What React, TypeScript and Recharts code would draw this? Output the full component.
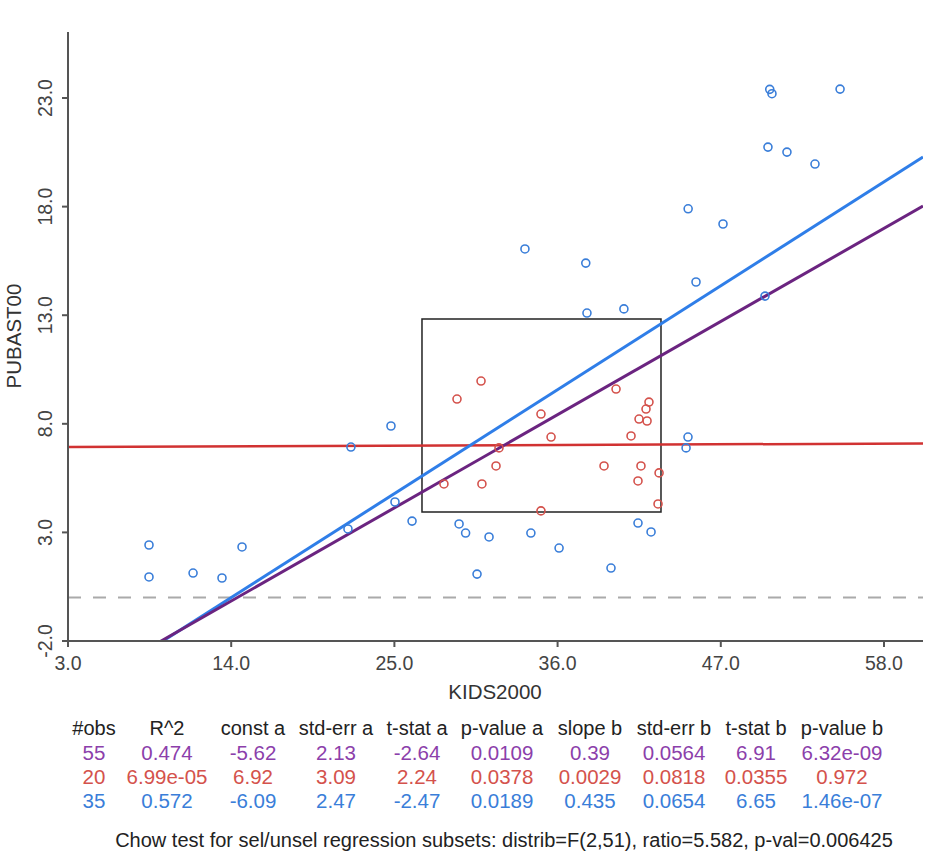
import React from "react";
import { ScatterChart, Scatter, XAxis, YAxis, ReferenceLine, ReferenceArea } from "recharts";

// unselected observations (blue)
const unselX = [8.46, 8.46, 11.43, 13.38, 14.73, 22.07, 24.77, 25.04, 21.87, 26.19, 29.36, 29.8, 31.38, 30.57, 34.2, 36.1, 33.8, 37.9, 37.98, 40.47, 41.42, 42.3, 39.6, 44.79, 44.66, 44.8, 47.15, 45.33, 49.98, 50.3, 50.45, 50.18, 51.46, 53.35, 55.04];
const unselY = [2.42, 0.95, 1.13, 0.9, 2.33, 6.93, 7.9, 4.4, 3.16, 3.52, 3.39, 2.97, 2.79, 1.08, 2.97, 2.28, 16.05, 15.4, 13.1, 13.29, 3.43, 3.02, 1.36, 7.39, 6.89, 17.9, 17.2, 14.53, 13.88, 23.4, 23.2, 20.74, 20.51, 19.96, 23.41];

// selected observations (red, inside the box)
const selX = [30.84, 29.22, 39.94, 42.16, 41.96, 41.49, 42.03, 34.88, 35.56, 40.95, 32.05, 31.85, 39.13, 41.62, 42.84, 41.42, 28.34, 30.9, 34.88, 42.77];
const selY = [9.97, 9.14, 9.6, 9.0, 8.68, 8.22, 8.13, 8.45, 7.39, 7.44, 6.89, 6.06, 6.06, 6.06, 5.74, 5.37, 5.23, 5.23, 3.99, 4.31];

// selection box (data units)
const boxX = [26.86, 42.97];
const boxY = [3.94, 12.83];

const xTicks = [3, 14, 25, 36, 47, 58];
const yTicks = [-2, 3, 8, 13, 18, 23];
const xDomain = [3, 60.63];
const yDomain = [-2, 26.04];

// regression summary: all / selected / unselected
const headers = ["#obs", "R^2", "const a", "std-err a", "t-stat a", "p-value a", "slope b", "std-err b", "t-stat b", "p-value b"];
const rowAll = ["55", "0.474", "-5.62", "2.13", "-2.64", "0.0109", "0.39", "0.0564", "6.91", "6.32e-09"];
const rowSel = ["20", "6.99e-05", "6.92", "3.09", "2.24", "0.0378", "0.0029", "0.0818", "0.0355", "0.972"];
const rowUnsel = ["35", "0.572", "-6.09", "2.47", "-2.47", "0.0189", "0.435", "0.0654", "6.65", "1.46e-07"];
const chowText = "Chow test for sel/unsel regression subsets: distrib=F(2,51), ratio=5.582, p-val=0.006425";

const colX = [94, 167, 253, 336, 417, 502, 590, 674, 756, 842];
const rowBase = [735, 760, 784, 808];

const FONT = "'Liberation Sans', Arial, Helvetica, sans-serif";
const PURPLE = "#6b2480";
const RED = "#d13232";
const BLUE = "#2f7ee8";
const T_PURPLE = "#8c3fab";
const T_RED = "#d4524c";
const T_BLUE = "#3a7ed9";

const unsel = unselX.map((x, i) => ({ x, y: unselY[i] }));
const sel = selX.map((x, i) => ({ x, y: selY[i] }));

const fit = (a: number, b: number) => [
  { x: xDomain[0], y: a + b * xDomain[0] },
  { x: xDomain[1], y: a + b * xDomain[1] },
];

const ring = (color: string) => (p: any) => (
  <circle cx={p.cx} cy={p.cy} r={4} fill="none" stroke={color} strokeWidth={1.6} />
);

const XTick = (p: any) => (
  <text x={p.x} y={670} textAnchor="middle" fontSize={19.5} fontFamily={FONT} fill="#444">
    {p.payload.value.toFixed(1)}
  </text>
);

const YTick = (p: any) => (
  <text
    transform={`translate(52, ${p.y}) rotate(-90)`}
    textAnchor="middle"
    fontSize={19.5}
    fontFamily={FONT}
    fill="#444"
  >
    {p.payload.value.toFixed(1)}
  </text>
);

const XTitle = () => (
  <text x={495} y={699} textAnchor="middle" fontSize={20.5} fontFamily={FONT} fill="#333">
    KIDS2000
  </text>
);

const YTitle = () => (
  <text transform="translate(21, 336) rotate(-90)" textAnchor="middle" fontSize={20.5} fontFamily={FONT} fill="#333">
    PUBAST00
  </text>
);

export default function App() {
  const rows = [
    { cells: rowAll, color: T_PURPLE },
    { cells: rowSel, color: T_RED },
    { cells: rowUnsel, color: T_BLUE },
  ];
  const a = [Number(rowAll[2]), Number(rowSel[2]), Number(rowUnsel[2])];
  const b = [Number(rowAll[6]), Number(rowSel[6]), Number(rowUnsel[6])];

  return (
    <div style={{ position: "absolute", left: 0, top: 0, width: 951, height: 862, background: "#fff" }}>
      <ScatterChart width={951} height={862} margin={{ top: 32, right: 28, bottom: 191, left: 8 }}>
        <XAxis
          type="number"
          dataKey="x"
          domain={xDomain}
          ticks={xTicks}
          allowDataOverflow
          height={30}
          tickSize={6}
          axisLine={{ stroke: "#555", strokeWidth: 2 }}
          tickLine={{ stroke: "#555", strokeWidth: 2 }}
          tick={XTick}
          label={{ content: XTitle }}
        />
        <YAxis
          type="number"
          dataKey="y"
          domain={yDomain}
          ticks={yTicks}
          allowDataOverflow
          width={60}
          tickSize={6}
          axisLine={{ stroke: "#555", strokeWidth: 2 }}
          tickLine={{ stroke: "#555", strokeWidth: 2 }}
          tick={YTick}
          label={{ content: YTitle }}
        />
        <ReferenceLine y={0} stroke="#aaa" strokeWidth={2} strokeDasharray="13 12" />
        <Scatter data={unsel} shape={ring(T_BLUE)} isAnimationActive={false} />
        <Scatter data={sel} shape={ring(T_RED)} isAnimationActive={false} />
        <ReferenceLine segment={fit(a[1], b[1])} stroke={RED} strokeWidth={2.5} ifOverflow="hidden" />
        <ReferenceLine segment={fit(a[2], b[2])} stroke={BLUE} strokeWidth={3} ifOverflow="hidden" />
        <ReferenceLine segment={fit(a[0], b[0])} stroke={PURPLE} strokeWidth={3} ifOverflow="hidden" />
        <ReferenceArea
          x1={boxX[0]}
          x2={boxX[1]}
          y1={boxY[0]}
          y2={boxY[1]}
          fill="none"
          fillOpacity={0}
          stroke="#222"
          strokeWidth={1.5}
        />
      </ScatterChart>
      <svg width={951} height={862} style={{ position: "absolute", left: 0, top: 0, pointerEvents: "none" }}>
        {headers.map((h, i) => (
          <text key={h} x={colX[i]} y={rowBase[0]} textAnchor="middle" fontSize={20} fontFamily={FONT} fill="#222">
            {h}
          </text>
        ))}
        {rows.map((r, j) =>
          r.cells.map((c, i) => (
            <text
              key={`${j}-${i}`}
              x={colX[i]}
              y={rowBase[j + 1]}
              textAnchor="middle"
              fontSize={20.5}
              fontFamily={FONT}
              fill={r.color}
            >
              {c}
            </text>
          ))
        )}
        <text x={504} y={847} textAnchor="middle" fontSize={20} fontFamily={FONT} fill="#222">
          {chowText}
        </text>
      </svg>
    </div>
  );
}
